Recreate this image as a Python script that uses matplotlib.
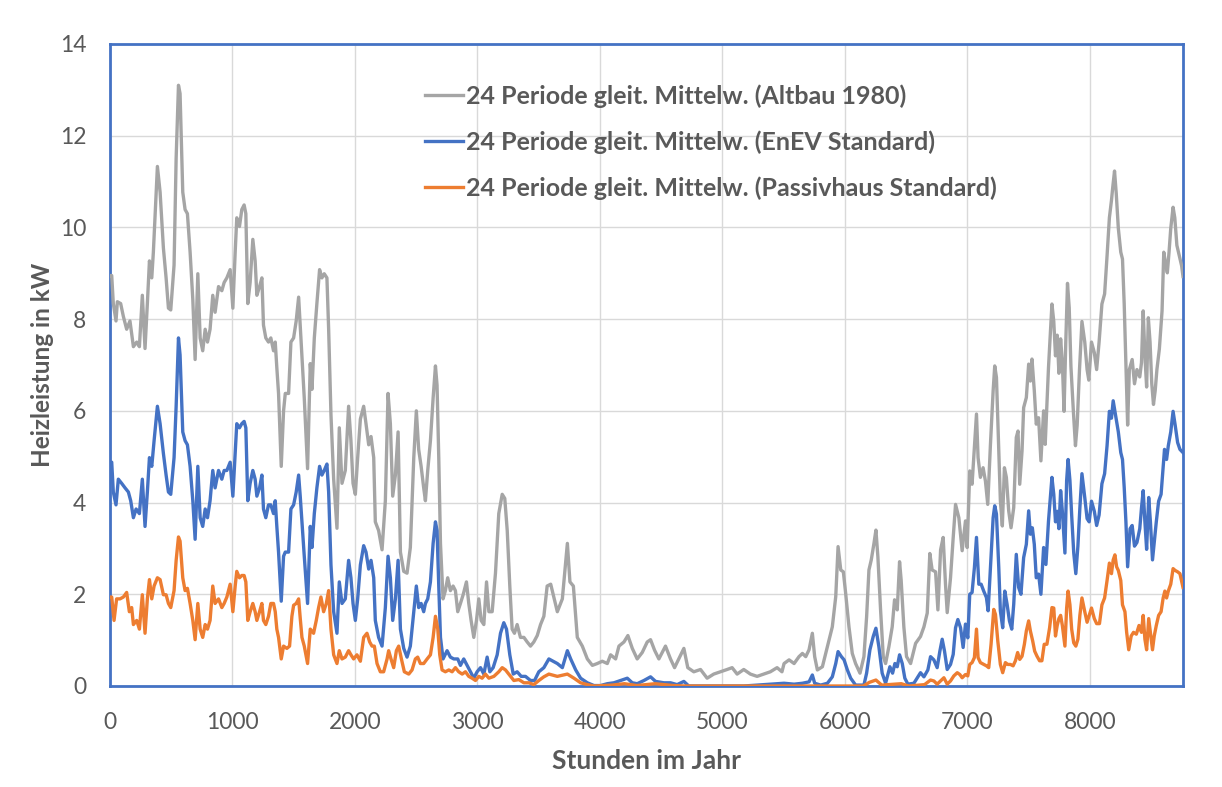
import matplotlib
matplotlib.use("Agg")
import matplotlib.pyplot as plt

# ---- data: (hour, kW) ----
altbau = [
    (0, 8.95), (14, 8.95), (27, 8.34), (49, 7.96), (60, 8.38), (87, 8.34), (109, 8.06), (136, 7.78), (163, 7.96),
    (177, 7.68), (191, 7.40), (218, 7.50), (240, 7.40), (264, 8.52), (286, 7.36), (305, 8.34), (322, 9.27),
    (341, 8.90), (354, 9.46), (387, 11.33), (409, 10.77), (436, 9.55), (458, 8.90), (477, 8.24), (496, 8.20),
    (523, 9.18), (540, 11.51), (559, 13.10), (572, 12.92), (594, 10.77), (613, 10.39), (632, 10.30), (654, 9.46),
    (676, 8.43), (695, 7.12), (717, 8.99), (736, 7.59), (757, 7.31), (777, 7.78), (796, 7.50), (817, 7.78),
    (839, 8.52), (858, 8.15), (886, 8.71), (913, 8.62), (932, 8.80), (954, 8.90), (981, 9.08), (1003, 8.24),
    (1022, 9.46), (1035, 10.21), (1057, 10.02), (1076, 10.39), (1095, 10.49), (1109, 10.30), (1125, 8.34),
    (1144, 8.80), (1166, 9.74), (1185, 9.27), (1199, 8.52), (1221, 8.71), (1240, 8.90), (1253, 7.87),
    (1272, 7.59), (1294, 7.50), (1313, 7.59), (1335, 7.31), (1349, 7.50), (1362, 6.94), (1376, 6.38),
    (1398, 4.79), (1417, 6.00), (1431, 6.38), (1458, 6.38), (1477, 7.50), (1499, 7.59), (1520, 7.96),
    (1540, 8.48), (1553, 7.87), (1567, 7.22), (1586, 6.28), (1613, 4.74), (1635, 7.03), (1649, 6.47),
    (1668, 7.59), (1689, 8.34), (1711, 9.08), (1730, 8.90), (1749, 8.99), (1771, 8.90), (1785, 7.78),
    (1804, 5.91), (1826, 4.51), (1853, 3.44), (1872, 5.63), (1894, 4.42), (1921, 4.70), (1948, 6.10),
    (1967, 5.35), (1984, 4.42), (2003, 4.18), (2022, 4.98), (2044, 5.82), (2071, 6.10), (2090, 5.72),
    (2112, 5.26), (2131, 5.44), (2153, 4.98), (2166, 3.58), (2193, 3.39), (2221, 2.97), (2248, 4.04),
    (2270, 6.38), (2289, 5.72), (2308, 4.14), (2330, 4.60), (2352, 5.54), (2371, 2.92), (2398, 2.50),
    (2425, 2.46), (2452, 3.02), (2480, 4.98), (2501, 6.00), (2520, 5.16), (2540, 4.79), (2561, 4.32),
    (2575, 4.04), (2594, 4.70), (2616, 5.35), (2638, 6.28), (2657, 6.98), (2670, 6.56), (2684, 4.98),
    (2698, 3.11), (2719, 1.90), (2738, 2.08), (2757, 2.36), (2779, 2.08), (2801, 2.18), (2820, 2.08),
    (2839, 1.62), (2861, 1.80), (2883, 1.99), (2910, 2.27), (2929, 1.80), (2948, 1.43), (2970, 1.06),
    (2992, 1.43), (3011, 1.90), (3030, 1.43), (3052, 1.34), (3074, 2.27), (3093, 1.62), (3120, 1.62),
    (3147, 2.46), (3174, 3.76), (3202, 4.18), (3223, 4.09), (3243, 3.39), (3264, 2.18), (3283, 1.24),
    (3302, 1.15), (3324, 1.34), (3351, 1.06), (3379, 1.06), (3406, 0.96), (3433, 0.87), (3460, 0.96),
    (3488, 1.10), (3515, 1.34), (3542, 1.52), (3569, 2.18), (3598, 2.22), (3652, 1.62), (3693, 1.90),
    (3734, 3.11), (3755, 2.27), (3783, 2.18), (3815, 1.06), (3856, 0.87), (3897, 0.59), (3938, 0.45),
    (3978, 0.49), (4019, 0.54), (4060, 0.49), (4087, 0.68), (4128, 0.59), (4155, 0.87), (4196, 0.96),
    (4228, 1.10), (4264, 0.82), (4304, 0.59), (4345, 0.73), (4386, 0.96), (4413, 1.01), (4446, 0.78),
    (4481, 0.59), (4535, 0.87), (4576, 0.59), (4609, 0.40), (4652, 0.64), (4685, 0.82), (4717, 0.40),
    (4766, 0.31), (4821, 0.36), (4875, 0.17), (4929, 0.26), (4984, 0.31), (5038, 0.36), (5079, 0.40),
    (5120, 0.26), (5174, 0.36), (5228, 0.26), (5283, 0.21), (5337, 0.26), (5391, 0.31), (5446, 0.40),
    (5486, 0.31), (5503, 0.49), (5544, 0.57), (5585, 0.49), (5625, 0.64), (5653, 0.71), (5680, 0.64),
    (5707, 0.79), (5734, 1.15), (5753, 0.64), (5775, 0.35), (5816, 0.42), (5857, 0.86), (5897, 1.29),
    (5925, 1.95), (5944, 3.04), (5966, 2.53), (5987, 2.49), (6006, 2.02), (6033, 1.29), (6060, 0.71),
    (6087, 0.49), (6123, 0.28), (6155, 0.64), (6177, 1.51), (6196, 2.53), (6215, 2.75), (6237, 3.11),
    (6253, 3.40), (6269, 2.82), (6291, 1.66), (6313, 0.64), (6332, 0.49), (6359, 0.86), (6386, 1.29),
    (6405, 1.88), (6427, 1.66), (6446, 2.71), (6459, 2.31), (6481, 1.29), (6503, 0.64), (6536, 0.49),
    (6577, 0.93), (6617, 1.08), (6645, 1.29), (6672, 1.59), (6693, 2.89), (6712, 2.53), (6740, 2.49),
    (6759, 1.66), (6781, 2.97), (6802, 3.24), (6821, 2.22), (6835, 1.60), (6862, 2.36), (6884, 3.24),
    (6903, 3.96), (6930, 3.67), (6957, 2.95), (6984, 3.60), (6998, 3.02), (7019, 4.69), (7038, 4.40),
    (7057, 5.20), (7074, 5.93), (7087, 4.98), (7106, 4.55), (7128, 4.76), (7147, 4.47), (7166, 3.96),
    (7188, 5.27), (7210, 6.44), (7223, 6.98), (7237, 6.73), (7256, 5.13), (7269, 4.04), (7285, 3.49),
    (7302, 4.76), (7318, 4.55), (7337, 3.82), (7356, 3.45), (7378, 3.89), (7399, 5.42), (7413, 5.56),
    (7427, 4.40), (7446, 5.13), (7459, 6.07), (7481, 6.29), (7500, 7.02), (7514, 6.65), (7527, 7.13),
    (7546, 6.44), (7562, 5.71), (7581, 5.85), (7600, 4.91), (7622, 6.00), (7635, 5.27), (7662, 6.95),
    (7690, 8.33), (7705, 7.95), (7719, 7.20), (7733, 7.65), (7747, 6.82), (7761, 7.57), (7775, 7.05),
    (7789, 5.99), (7803, 7.50), (7817, 8.78), (7831, 8.25), (7845, 6.97), (7865, 5.99), (7882, 5.24),
    (7896, 5.69), (7915, 6.90), (7935, 7.95), (7958, 7.50), (7977, 6.90), (7991, 6.67), (8013, 7.50),
    (8036, 7.27), (8055, 6.90), (8075, 7.50), (8098, 8.33), (8120, 8.55), (8140, 9.38), (8159, 10.21),
    (8176, 10.59), (8187, 10.89), (8201, 11.23), (8215, 10.74), (8232, 9.98), (8252, 9.46), (8266, 9.31),
    (8280, 8.33), (8294, 7.05), (8308, 5.69), (8322, 6.90), (8345, 7.12), (8364, 6.59), (8384, 6.90),
    (8407, 6.74), (8421, 7.05), (8435, 8.18), (8449, 7.20), (8463, 6.52), (8477, 8.03), (8491, 7.50),
    (8505, 6.59), (8519, 6.14), (8533, 6.44), (8547, 6.90), (8567, 7.35), (8589, 8.18), (8603, 9.46),
    (8617, 9.23), (8632, 9.01), (8646, 9.46), (8660, 9.98), (8679, 10.44), (8693, 10.21), (8710, 9.61),
    (8730, 9.38), (8749, 9.16), (8760, 8.93),
]

enev = [
    (0, 4.88), (14, 4.88), (27, 4.23), (49, 3.95), (68, 4.51), (95, 4.42), (123, 4.32), (150, 4.23), (169, 4.04),
    (191, 3.67), (213, 3.86), (240, 3.76), (264, 4.51), (286, 3.48), (305, 4.23), (322, 4.98), (341, 4.79),
    (360, 5.35), (387, 6.10), (409, 5.72), (436, 5.07), (458, 4.60), (477, 4.23), (496, 4.18), (523, 4.98),
    (540, 6.10), (559, 7.59), (572, 7.22), (594, 5.54), (613, 5.35), (632, 5.26), (654, 4.79), (676, 4.04),
    (695, 3.20), (717, 4.79), (736, 3.67), (757, 3.48), (777, 3.86), (796, 3.67), (817, 4.04), (839, 4.70),
    (858, 4.32), (886, 4.70), (913, 4.51), (932, 4.70), (954, 4.70), (981, 4.88), (1003, 4.14), (1022, 5.07),
    (1035, 5.72), (1057, 5.63), (1076, 5.72), (1095, 5.77), (1109, 5.63), (1125, 4.04), (1144, 4.42),
    (1166, 4.70), (1185, 4.51), (1199, 4.14), (1221, 4.32), (1240, 4.60), (1253, 3.86), (1272, 3.67),
    (1294, 3.95), (1313, 3.95), (1335, 3.76), (1349, 4.04), (1362, 3.48), (1376, 2.92), (1398, 1.85),
    (1417, 2.83), (1431, 2.92), (1458, 2.92), (1477, 3.86), (1499, 3.95), (1520, 4.23), (1540, 4.60),
    (1553, 4.14), (1567, 3.58), (1586, 2.83), (1613, 1.80), (1635, 3.48), (1649, 3.02), (1668, 3.76),
    (1689, 4.32), (1711, 4.79), (1730, 4.60), (1749, 4.70), (1771, 4.84), (1785, 4.23), (1804, 2.64),
    (1826, 1.62), (1853, 1.15), (1872, 2.27), (1894, 1.80), (1921, 1.90), (1948, 2.74), (1967, 2.36),
    (1984, 1.80), (2003, 1.43), (2022, 1.90), (2044, 2.64), (2071, 3.06), (2090, 2.92), (2112, 2.55),
    (2131, 2.74), (2153, 2.36), (2166, 1.43), (2193, 1.06), (2221, 0.87), (2248, 1.71), (2270, 2.83),
    (2289, 2.36), (2308, 1.43), (2330, 1.90), (2352, 2.74), (2371, 1.24), (2398, 0.82), (2425, 0.63),
    (2452, 0.87), (2480, 1.62), (2501, 2.18), (2520, 1.71), (2540, 1.80), (2561, 1.62), (2575, 1.80),
    (2594, 1.90), (2616, 2.27), (2638, 3.11), (2657, 3.58), (2670, 3.39), (2684, 2.18), (2698, 1.06),
    (2719, 0.59), (2752, 0.77), (2779, 0.63), (2807, 0.59), (2839, 0.59), (2861, 0.45), (2888, 0.59),
    (2916, 0.45), (2943, 0.31), (2970, 0.17), (2997, 0.31), (3025, 0.40), (3052, 0.26), (3079, 0.63),
    (3101, 0.31), (3128, 0.40), (3161, 0.68), (3188, 1.15), (3215, 1.38), (3237, 1.24), (3264, 0.68),
    (3292, 0.26), (3324, 0.31), (3357, 0.21), (3392, 0.21), (3433, 0.12), (3466, 0.12), (3501, 0.31),
    (3542, 0.40), (3583, 0.59), (3652, 0.49), (3693, 0.40), (3734, 0.77), (3761, 0.59), (3802, 0.35),
    (3842, 0.17), (3897, 0.07), (3951, 0.01), (4005, 0.01), (4060, 0.05), (4114, 0.07), (4168, 0.12),
    (4223, 0.17), (4264, 0.07), (4304, 0.05), (4359, 0.12), (4413, 0.20), (4454, 0.10), (4522, 0.07),
    (4576, 0.07), (4630, 0.03), (4685, 0.10), (4725, 0.0), (5174, 0.0), (5503, 0.06), (5585, 0.04),
    (5653, 0.06), (5707, 0.09), (5734, 0.24), (5753, 0.06), (5802, 0.02), (5857, 0.06), (5897, 0.20),
    (5925, 0.49), (5944, 0.75), (5971, 0.64), (5993, 0.57), (6020, 0.35), (6047, 0.17), (6087, 0.02),
    (6155, 0.02), (6177, 0.28), (6204, 0.79), (6231, 1.08), (6253, 1.26), (6277, 0.86), (6304, 0.28),
    (6332, 0.06), (6367, 0.42), (6389, 0.28), (6408, 0.49), (6427, 0.42), (6446, 0.68), (6468, 0.49),
    (6489, 0.17), (6514, 0.04), (6563, 0.06), (6617, 0.29), (6645, 0.20), (6677, 0.35), (6699, 0.64),
    (6726, 0.57), (6753, 0.40), (6775, 0.76), (6794, 1.02), (6813, 0.76), (6835, 0.36), (6862, 0.47),
    (6884, 0.69), (6903, 1.27), (6922, 1.45), (6944, 1.27), (6965, 0.84), (6984, 1.35), (7003, 1.05),
    (7019, 2.00), (7038, 2.04), (7057, 2.58), (7074, 3.24), (7093, 2.22), (7112, 2.22), (7133, 2.07),
    (7155, 1.93), (7169, 1.64), (7188, 2.58), (7210, 3.67), (7223, 3.93), (7237, 3.75), (7256, 2.58),
    (7269, 1.64), (7288, 1.27), (7305, 2.07), (7324, 1.78), (7343, 1.42), (7362, 1.24), (7378, 1.78),
    (7399, 2.87), (7418, 2.15), (7437, 2.00), (7459, 2.80), (7481, 3.09), (7500, 3.82), (7514, 3.31),
    (7530, 3.45), (7546, 3.09), (7562, 2.36), (7581, 2.44), (7600, 2.00), (7622, 3.02), (7641, 2.65),
    (7662, 3.60), (7690, 4.55), (7705, 4.18), (7719, 3.58), (7733, 3.81), (7747, 3.43), (7761, 4.26),
    (7775, 3.81), (7796, 2.90), (7810, 4.48), (7822, 4.94), (7837, 4.48), (7851, 3.73), (7868, 2.90),
    (7885, 2.45), (7902, 3.05), (7918, 3.88), (7935, 4.63), (7958, 4.11), (7977, 3.65), (7994, 3.58),
    (8013, 4.03), (8036, 3.81), (8055, 3.50), (8075, 3.73), (8098, 4.41), (8120, 4.63), (8140, 5.24),
    (8159, 5.99), (8176, 5.84), (8190, 6.22), (8204, 5.99), (8218, 5.76), (8232, 5.54), (8252, 5.09),
    (8266, 4.94), (8280, 4.33), (8294, 3.58), (8308, 2.60), (8328, 3.43), (8345, 3.50), (8364, 3.05),
    (8384, 3.13), (8407, 3.43), (8421, 3.88), (8435, 4.26), (8449, 3.58), (8463, 2.98), (8480, 4.11),
    (8494, 3.58), (8511, 2.75), (8525, 3.13), (8542, 3.58), (8561, 4.03), (8581, 4.18), (8598, 4.79),
    (8609, 5.16), (8626, 4.94), (8640, 5.24), (8660, 5.54), (8679, 5.99), (8696, 5.69), (8716, 5.31),
    (8735, 5.16), (8760, 5.09),
]

passivhaus = [
    (0, 1.94), (14, 1.94), (33, 1.43), (54, 1.90), (82, 1.90), (109, 1.94), (136, 2.04), (158, 1.62), (177, 1.71),
    (191, 1.34), (218, 1.43), (240, 1.24), (264, 1.99), (286, 1.15), (305, 1.90), (322, 2.32), (341, 1.90),
    (360, 2.18), (387, 2.36), (409, 2.32), (436, 1.99), (458, 1.99), (477, 1.80), (496, 1.71), (523, 2.08),
    (540, 2.74), (559, 3.25), (572, 3.16), (594, 2.36), (613, 2.08), (632, 2.13), (654, 1.80), (676, 1.43),
    (695, 1.01), (717, 1.80), (736, 1.24), (757, 1.06), (777, 1.34), (796, 1.24), (817, 1.43), (839, 2.18),
    (858, 1.80), (886, 1.90), (913, 1.71), (932, 1.80), (954, 1.94), (981, 2.22), (1003, 1.62), (1022, 2.18),
    (1035, 2.50), (1057, 2.36), (1076, 2.41), (1095, 2.41), (1109, 2.27), (1125, 1.43), (1144, 1.62),
    (1166, 1.80), (1185, 1.62), (1199, 1.43), (1221, 1.62), (1240, 1.80), (1253, 1.43), (1272, 1.34),
    (1294, 1.52), (1313, 1.80), (1335, 1.80), (1349, 1.62), (1362, 1.24), (1376, 1.06), (1398, 0.59),
    (1417, 0.87), (1444, 0.82), (1466, 0.87), (1485, 1.52), (1499, 1.76), (1520, 1.80), (1540, 1.90),
    (1553, 1.48), (1567, 1.06), (1586, 0.87), (1613, 0.49), (1635, 1.24), (1662, 1.15), (1684, 1.43),
    (1703, 1.71), (1722, 1.94), (1744, 1.62), (1766, 1.80), (1785, 2.08), (1804, 1.24), (1826, 0.68),
    (1853, 0.49), (1872, 0.77), (1894, 0.59), (1921, 0.63), (1948, 0.77), (1967, 0.68), (1989, 0.59),
    (2016, 0.68), (2044, 0.54), (2071, 1.06), (2098, 1.15), (2120, 0.96), (2139, 0.87), (2158, 0.87),
    (2180, 0.49), (2207, 0.31), (2234, 0.31), (2262, 0.59), (2275, 0.77), (2294, 0.59), (2316, 0.40),
    (2338, 0.77), (2357, 0.87), (2379, 0.59), (2403, 0.31), (2439, 0.26), (2466, 0.35), (2493, 0.59),
    (2512, 0.63), (2534, 0.49), (2561, 0.49), (2589, 0.59), (2616, 0.68), (2638, 1.06), (2657, 1.52),
    (2676, 1.24), (2692, 0.68), (2711, 0.35), (2738, 0.31), (2766, 0.35), (2793, 0.31), (2820, 0.40),
    (2847, 0.31), (2875, 0.26), (2902, 0.31), (2929, 0.21), (2956, 0.17), (2984, 0.12), (3011, 0.21),
    (3038, 0.17), (3065, 0.26), (3093, 0.17), (3134, 0.21), (3174, 0.31), (3202, 0.40), (3229, 0.35),
    (3256, 0.26), (3297, 0.12), (3338, 0.14), (3379, 0.07), (3420, 0.07), (3460, 0.03), (3501, 0.12),
    (3542, 0.20), (3583, 0.26), (3652, 0.21), (3734, 0.26), (3788, 0.17), (3842, 0.07), (3897, 0.03),
    (3951, 0.0), (4100, 0.02), (4200, 0.05), (4300, 0.01), (4450, 0.05), (4600, 0.01), (4700, 0.0),
    (6150, 0.0), (6200, 0.08), (6253, 0.13), (6300, 0.02), (6460, 0.05), (6520, 0.0), (6650, 0.03),
    (6699, 0.13), (6726, 0.11), (6753, 0.04), (6780, 0.11), (6808, 0.18), (6835, 0.04), (6862, 0.11),
    (6889, 0.22), (6917, 0.29), (6938, 0.25), (6957, 0.18), (6984, 0.25), (7003, 0.22), (7019, 0.47),
    (7038, 0.51), (7057, 0.62), (7074, 1.24), (7087, 0.62), (7106, 0.51), (7133, 0.47), (7155, 0.44),
    (7174, 0.40), (7193, 0.91), (7215, 1.67), (7229, 1.56), (7248, 0.98), (7269, 0.47), (7288, 0.29),
    (7310, 0.51), (7329, 0.47), (7351, 0.47), (7373, 0.44), (7392, 0.55), (7410, 0.73), (7427, 0.58),
    (7446, 0.65), (7465, 0.91), (7481, 1.20), (7500, 1.42), (7514, 1.20), (7533, 0.98), (7549, 0.76),
    (7568, 0.65), (7589, 0.55), (7608, 0.55), (7627, 0.91), (7649, 0.91), (7671, 1.27), (7690, 1.71),
    (7705, 1.70), (7719, 1.09), (7733, 1.32), (7747, 1.47), (7761, 1.54), (7775, 1.32), (7796, 0.87),
    (7810, 1.70), (7822, 2.07), (7837, 1.77), (7851, 1.24), (7868, 0.94), (7885, 0.87), (7902, 1.02),
    (7918, 1.54), (7935, 1.92), (7958, 1.62), (7977, 1.39), (7994, 1.54), (8013, 1.70), (8036, 1.47),
    (8055, 1.36), (8078, 1.36), (8098, 1.77), (8120, 1.92), (8140, 2.30), (8159, 2.68), (8176, 2.45),
    (8190, 2.75), (8204, 2.86), (8218, 2.60), (8232, 2.52), (8252, 2.30), (8266, 1.77), (8286, 1.62),
    (8300, 1.17), (8317, 0.79), (8337, 1.09), (8356, 1.17), (8379, 1.13), (8401, 1.32), (8421, 1.17),
    (8435, 1.54), (8449, 1.02), (8463, 0.79), (8480, 1.47), (8494, 1.17), (8511, 0.79), (8525, 1.09),
    (8542, 1.32), (8561, 1.54), (8581, 1.62), (8598, 1.92), (8612, 2.07), (8626, 1.92), (8640, 2.07),
    (8660, 2.22), (8679, 2.56), (8696, 2.52), (8716, 2.49), (8735, 2.45), (8760, 2.15),
]

series_labels = [
    "24 Periode gleit. Mittelw. (Altbau 1980)",
    "24 Periode gleit. Mittelw. (EnEV Standard)",
    "24 Periode gleit. Mittelw. (Passivhaus Standard)",
]
x_ticks = [0, 1000, 2000, 3000, 4000, 5000, 6000, 7000, 8000]
y_ticks = [0, 2, 4, 6, 8, 10, 12, 14]
x_label = "Stunden im Jahr"
y_label = "Heizleistung in kW"

colors = ["#A5A5A5", "#4472C4", "#ED7D31"]
text_color = "#595959"
plt.rcParams["font.family"] = ["Lato", "DejaVu Sans"]

fig = plt.figure(figsize=(12.22, 7.87), dpi=100)
ax = fig.add_axes([110 / 1222, 1 - 686 / 787, 1073 / 1222, 642 / 787])

for data, lab, col in zip([altbau, enev, passivhaus], series_labels, colors):
    xs = [p[0] for p in data]
    ys = [p[1] for p in data]
    ax.plot(xs, ys, color=col, lw=2.4, label=lab, solid_joinstyle="round", zorder=3)

ax.set_xlim(0, 8760)
ax.set_ylim(0, 14)
ax.set_xticks(x_ticks)
ax.set_yticks(y_ticks)
ax.grid(True, color="#D9D9D9", lw=1.0, zorder=0)
ax.set_axisbelow(True)
for s in ax.spines.values():
    s.set_color("#4472C4")
    s.set_linewidth(2.0)
ax.tick_params(axis="x", length=0, labelsize=16.5, labelcolor=text_color, pad=19)
ax.tick_params(axis="y", length=0, labelsize=16.5, labelcolor=text_color, pad=17)
ax.set_xlabel(x_label, fontsize=19, fontweight="bold", color=text_color, labelpad=11)
ax.set_ylabel(y_label, fontsize=17.5, fontweight="bold", color=text_color, labelpad=4)

leg = ax.legend(loc="upper left", bbox_to_anchor=(0.2936, 0.937), frameon=False,
                prop={"size": 18, "weight": "bold"}, handlelength=1.5, handletextpad=0.15,
                labelspacing=0.9, borderpad=0, borderaxespad=0)
for t in leg.get_texts():
    t.set_color(text_color)

fig.savefig("out.png", dpi=100, facecolor="white")
